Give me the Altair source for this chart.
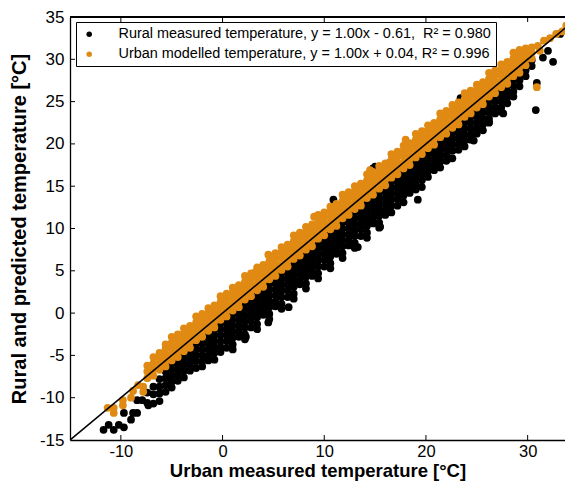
import altair as alt
import pandas as pd

LAB_R = "Rural measured temperature, y = 1.00x - 0.61,\u00a0 R² = 0.980"
LAB_U = "Urban modelled temperature, y = 1.00x + 0.04, R² = 0.996"
ORANGE = "#E08A14"

# ---- Urban modelled temperature (orange), columns of points ----
orange_x = [-7.4, -6.8, -6.2, -5.6, -5.0, -4.4, -3.8, -3.2, -2.6, -2.0, -1.4, -0.8, -0.2,
            0.4, 1.0, 1.6, 2.2, 2.8, 3.4, 4.0, 4.6, 5.2, 5.8, 6.4, 7.0, 7.6, 8.2, 8.8, 9.4,
            10.0, 10.6, 11.2, 11.8, 12.4, 13.0, 13.6, 14.2, 14.8, 15.4, 16.0, 16.6, 17.2,
            17.8, 18.4, 19.0, 19.6, 20.2, 20.8, 21.4, 22.0, 22.6, 23.2, 23.8, 24.4, 25.0,
            25.6, 26.2, 26.8, 27.4, 28.0, 28.6, 29.2, 29.8, 30.4]
orange_y = [
    [-7.7, -6.9, -6.2], [-7.4, -6.6, -5.9, -5.2], [-6.7, -6.0, -5.3, -4.7],
    [-6.3, -5.6, -4.9, -4.2, -3.7], [-5.6, -4.9, -4.2, -3.5, -2.8], [-5.2, -4.5, -3.8, -3.1, -2.5],
    [-4.5, -3.8, -3.1, -2.4, -1.8], [-4.1, -3.4, -2.7, -2.0, -1.5], [-3.2, -2.5, -1.8, -1.1, -0.4],
    [-2.8, -2.1, -1.4, -0.7, -0.1], [-2.1, -1.4, -0.7, 0.0, 0.6], [-1.7, -1.0, -0.3, 0.4, 0.9],
    [-0.8, -0.1, 0.6, 1.3, 2.0], [-0.4, 0.3, 1.0, 1.7, 2.3], [0.3, 1.0, 1.7, 2.4, 3.0],
    [0.7, 1.4, 2.1, 2.8, 3.3], [1.6, 2.3, 3.0, 3.7, 4.4], [2.0, 2.7, 3.4, 4.1, 4.7],
    [2.7, 3.4, 4.1, 4.8, 5.4], [3.1, 3.8, 4.5, 5.2, 5.7], [4.0, 4.7, 5.4, 6.1, 6.8],
    [4.4, 5.1, 5.8, 6.5, 7.1], [5.1, 5.8, 6.5, 7.2, 7.8], [5.5, 6.2, 6.9, 7.6, 8.1],
    [6.4, 7.1, 7.8, 8.5, 9.2], [6.8, 7.5, 8.2, 8.9, 9.5], [7.5, 8.2, 8.9, 9.6, 10.2],
    [7.9, 8.6, 9.3, 10.0, 10.5], [8.8, 9.5, 10.2, 10.9, 11.6], [9.2, 9.9, 10.6, 11.3, 11.9],
    [9.9, 10.6, 11.3, 12.0, 12.6], [10.3, 11.0, 11.7, 12.4, 12.9], [11.2, 11.9, 12.6, 13.3, 14.0],
    [11.6, 12.3, 13.0, 13.7, 14.3], [12.3, 13.0, 13.7, 14.4, 15.0], [12.7, 13.4, 14.1, 14.8, 15.3],
    [13.6, 14.3, 15.0, 15.7, 16.4], [14.0, 14.7, 15.4, 16.1, 16.7], [14.7, 15.4, 16.1, 16.8, 17.4],
    [15.1, 15.8, 16.5, 17.2, 17.7], [16.0, 16.7, 17.4, 18.1, 18.8], [16.4, 17.1, 17.8, 18.5, 19.1],
    [17.1, 17.8, 18.5, 19.2, 19.8], [17.5, 18.2, 18.9, 19.6, 20.1], [18.4, 19.1, 19.8, 20.5, 21.2],
    [18.8, 19.5, 20.2, 20.9, 21.5], [19.5, 20.2, 20.9, 21.6, 22.2], [19.9, 20.6, 21.3, 22.0, 22.5],
    [20.8, 21.5, 22.2, 22.9, 23.6], [21.2, 21.9, 22.6, 23.3, 23.9], [21.9, 22.6, 23.3, 24.0, 24.6],
    [22.3, 23.0, 23.7, 24.4, 24.9], [23.2, 23.9, 24.6, 25.3, 26.0], [23.6, 24.3, 25.0, 25.7, 26.3],
    [24.3, 25.0, 25.7, 26.4, 27.0], [24.7, 25.4, 26.1, 26.8, 27.3], [25.6, 26.3, 27.0, 27.7, 28.4],
    [26.0, 26.7, 27.4, 28.1, 28.7], [26.7, 27.4, 28.1, 28.8, 29.4], [27.1, 27.8, 28.5, 29.2, 29.7],
    [28.0, 28.7, 29.4, 30.1, 30.8], [28.4, 29.1, 29.8, 30.5, 31.1], [29.3, 30.0, 30.7, 31.3],
    [30.1, 30.8, 31.4],
]
orange_extra_x = [-11.3, -10.7, -10.7, -9.8, -9.8, -9.0, -8.8, -8.3, -7.8, -7.8, 3.2, 4.5,
                  9.0, 14.5, 18.0, 30.9, 31.0, 31.2, 31.6, 32.2, 32.8, 33.4, 33.8, 34.2]
orange_extra_y = [-11.2, -11.2, -11.8, -10.3, -10.9, -10.0, -9.2, -8.5, -8.7, -9.3, 4.8, 6.9,
                  11.4, 16.9, 20.5, 26.7, 31.6, 31.0, 32.2, 32.5, 33.0, 33.3, 34.0, 34.3]

# ---- Rural measured temperature (black) ----
black_x = orange_x
black_y = [
    [-9.4, -10.6], [-8.7, -9.6, -10.7], [-7.8, -8.7, -9.5, -10.4], [-6.9, -7.7, -8.5, -9.3],
    [-6.0, -6.7, -7.4, -8.1, -8.8], [-5.2, -5.9, -6.6, -7.3, -8.0], [-4.7, -5.4, -6.1, -6.8, -7.6],
    [-4.0, -4.7, -5.4, -6.1, -6.8], [-3.6, -4.3, -5.0, -5.7, -6.5], [-2.9, -3.6, -4.3, -5.0, -5.7, -6.3],
    [-2.2, -2.9, -3.6, -4.3, -5.0, -5.6], [-1.9, -2.6, -3.3, -4.0, -4.7, -5.5],
    [-1.2, -1.9, -2.6, -3.3, -4.0, -4.6], [-0.5, -1.2, -1.9, -2.6, -3.3, -4.1],
    [-0.1, -0.8, -1.5, -2.2, -2.9, -3.7, -4.3], [0.6, -0.1, -0.8, -1.5, -2.2, -2.8],
    [1.1, 0.4, -0.3, -1.0, -1.7, -2.5, -3.1], [1.9, 1.2, 0.5, -0.2, -0.9, -1.7],
    [2.3, 1.6, 0.9, 0.2, -0.5, -1.3, -1.9], [3.2, 2.5, 1.8, 1.1, 0.4, -0.2],
    [3.5, 2.8, 2.1, 1.4, 0.7, -0.1, -0.7], [4.2, 3.5, 2.8, 2.1, 1.4, 0.8],
    [4.7, 4.0, 3.3, 2.6, 1.9, 1.1, 0.5], [5.5, 4.8, 4.1, 3.4, 2.7, 1.9],
    [5.9, 5.2, 4.5, 3.8, 3.1, 2.3, 1.7], [6.8, 6.1, 5.4, 4.7, 4.0, 3.4],
    [7.1, 6.4, 5.7, 5.0, 4.3, 3.5, 2.9], [7.8, 7.1, 6.4, 5.7, 5.0, 4.4],
    [8.3, 7.6, 6.9, 6.2, 5.5, 4.7, 4.1], [9.1, 8.4, 7.7, 7.0, 6.3, 5.5],
    [9.5, 8.8, 8.1, 7.4, 6.7, 5.9, 5.3], [10.4, 9.7, 9.0, 8.3, 7.6, 7.0],
    [10.7, 10.0, 9.3, 8.6, 7.9, 7.1, 6.5], [11.4, 10.7, 10.0, 9.3, 8.6, 8.0],
    [11.9, 11.2, 10.5, 9.8, 9.1, 8.3, 7.7], [12.7, 12.0, 11.3, 10.6, 9.9, 9.1],
    [13.1, 12.4, 11.7, 11.0, 10.3, 9.5, 8.9], [14.0, 13.3, 12.6, 11.9, 11.2, 10.6],
    [14.3, 13.6, 12.9, 12.2, 11.5, 10.7, 10.1], [15.0, 14.3, 13.6, 12.9, 12.2, 11.6],
    [15.5, 14.8, 14.1, 13.4, 12.7, 11.9], [16.3, 15.6, 14.9, 14.2, 13.5, 12.7],
    [16.7, 16.0, 15.3, 14.6, 13.9, 13.1], [17.6, 16.9, 16.2, 15.5, 14.8, 14.2],
    [18.0, 17.3, 16.6, 15.9, 15.2, 14.6], [18.5, 17.8, 17.1, 16.4, 15.7, 14.9],
    [19.6, 18.9, 18.2, 17.5, 16.8, 16.1], [20.3, 19.6, 18.9, 18.2, 17.5, 16.9],
    [20.7, 20.0, 19.3, 18.6, 17.9, 17.2], [21.5, 20.8, 20.1, 19.4, 18.7, 18.0],
    [22.0, 21.3, 20.6, 19.9, 19.2, 18.3], [22.8, 22.1, 21.4, 20.7, 20.0, 19.3],
    [23.2, 22.5, 21.8, 21.1, 20.4, 19.7], [23.9, 23.2, 22.5, 21.8, 21.1, 20.5],
    [24.6, 23.9, 23.2, 22.5, 21.8, 21.2], [25.1, 24.4, 23.7, 23.0, 22.3, 21.6],
    [25.8, 25.1, 24.4, 23.7, 23.0, 22.5], [26.4, 25.7, 25.0, 24.3, 23.6],
    [27.1, 26.4, 25.7, 25.0, 24.3, 23.8], [27.6, 26.9, 26.2, 25.5, 24.8],
    [28.3, 27.6, 26.9, 26.2, 25.6], [28.9, 28.2, 27.5, 26.8], [29.4, 28.7, 28.0],
    [29.9, 29.2],
]
black_extra_x = [-11.7, -11.2, -10.7, -10.2, -9.7, -9.0, -8.8, -8.4, -8.4, -7.9, -7.3, -9.7,
                 2.3, 3.2, 4.5, 4.5, 6.5, 10.9, 13.3, 14.8, 15.0, 15.5, 16.3, 19.2, 22.4,
                 23.4, 24.7, 26.2, 27.6, 30.8, 30.9, 31.5, 32.0, 32.5, 33.2, 33.8]
black_extra_y = [-13.8, -13.2, -13.8, -13.2, -13.5, -12.6, -11.8, -11.8, -10.3, -10.3, -10.9, -11.8,
                 -2.8, 4.4, 5.7, -1.1, 0.7, 13.4, 7.8, 17.1, 17.3, 10.2, 17.7, 13.4, 18.3,
                 25.4, 20.4, 22.6, 23.6, 24.0, 27.2, 30.2, 31.0, 29.7, 33.0, 33.4]

tick_x = [-10, 0, 10, 20, 30]
tick_y = [-10, -5, 0, 5, 10, 15, 20, 25, 30]
label_y = [-15, -10, -5, 0, 5, 10, 15, 20, 25, 30, 35]
one_to_one = [-15, 35]

rows = []
for x, ys in zip(black_x, black_y):
    for y in ys:
        rows.append((x, y, LAB_R))
for x, y in zip(black_extra_x, black_extra_y):
    rows.append((x, y, LAB_R))
for x, ys in zip(orange_x, orange_y):
    for y in ys:
        rows.append((x, y, LAB_U))
for x, y in zip(orange_extra_x, orange_extra_y):
    rows.append((x, y, LAB_U))
df = pd.DataFrame(rows, columns=["u", "t", "s"])

W, H = 495, 423
X_END = -15 + W / 10.17
xs = alt.Scale(domain=[-15, X_END], nice=False, zero=False)
ys = alt.Scale(domain=[-15, 35], nice=False, zero=False)
minus_fix = "datum.value < 0 ? '-' + abs(datum.value) : '' + datum.value"
XT = "Urban measured temperature [°C]"
YT = "Rural and predicted temperature [°C]"

x_enc = alt.X("u:Q", scale=xs, title=XT, axis=alt.Axis(
    values=tick_x, ticks=False, domain=True, domainColor="black", domainWidth=1.3,
    grid=False, labelPadding=3, labelFontSize=16.5, titlePadding=2, titleFontSize=18.5,
    labelExpr=minus_fix))
y_enc = alt.Y("t:Q", scale=ys, title=YT, axis=alt.Axis(
    values=label_y, ticks=False, domain=True, domainColor="black", domainWidth=1.3,
    grid=False, labelPadding=6, labelFontSize=17, titlePadding=10, titleFontSize=20,
    labelExpr=minus_fix))

points = alt.Chart(df).mark_circle(size=60, opacity=1).encode(
    x=x_enc, y=y_enc,
    color=alt.Color("s:N", title=None,
                    scale=alt.Scale(domain=[LAB_R, LAB_U], range=["#000000", ORANGE]),
                    legend=alt.Legend(orient="none", legendX=6, legendY=5, symbolSize=30,
                                      symbolOffset=1, labelOffset=22)),
)

line = alt.Chart(pd.DataFrame({"u": one_to_one, "t": one_to_one})).mark_line(
    color="black", strokeWidth=1.6, clip=True).encode(x=x_enc, y=y_enc)

tx = pd.DataFrame({"u": tick_x})
ty = pd.DataFrame({"t": tick_y})
tick_bottom = alt.Chart(tx).mark_rule(color="black", strokeWidth=1).encode(
    x=x_enc, y=alt.value(H), y2=alt.value(H - 5))
tick_top = alt.Chart(tx).mark_rule(color="black", strokeWidth=1).encode(
    x=x_enc, y=alt.value(0), y2=alt.value(5))
tick_left = alt.Chart(ty).mark_rule(color="black", strokeWidth=1).encode(
    y=y_enc, x=alt.value(0), x2=alt.value(5))
top_border = alt.Chart(tx).mark_rule(color="black", strokeWidth=1.3).encode(
    y=alt.value(0), x=alt.value(0), x2=alt.value(W))

chart = alt.layer(points, line, tick_bottom, tick_top, tick_left, top_border).properties(
    width=W, height=H,
    autosize=alt.AutoSizeParams(type="none"),
    padding={"left": 62, "top": 9, "right": 0, "bottom": 42},
).configure_view(
    strokeOpacity=0
).configure_axis(
    labelFont="Liberation Sans", titleFont="Liberation Sans",
    titleFontWeight="bold", labelColor="black", titleColor="black"
).configure_legend(
    strokeColor="black", fillColor="white", padding=5, cornerRadius=0,
    labelFont="Liberation Sans", labelFontSize=14.45, labelColor="black", labelLimit=600,
    symbolType="circle", symbolStrokeWidth=0, rowPadding=5,
)

chart.save("out.html", embed_options={"renderer": "svg", "actions": False})
